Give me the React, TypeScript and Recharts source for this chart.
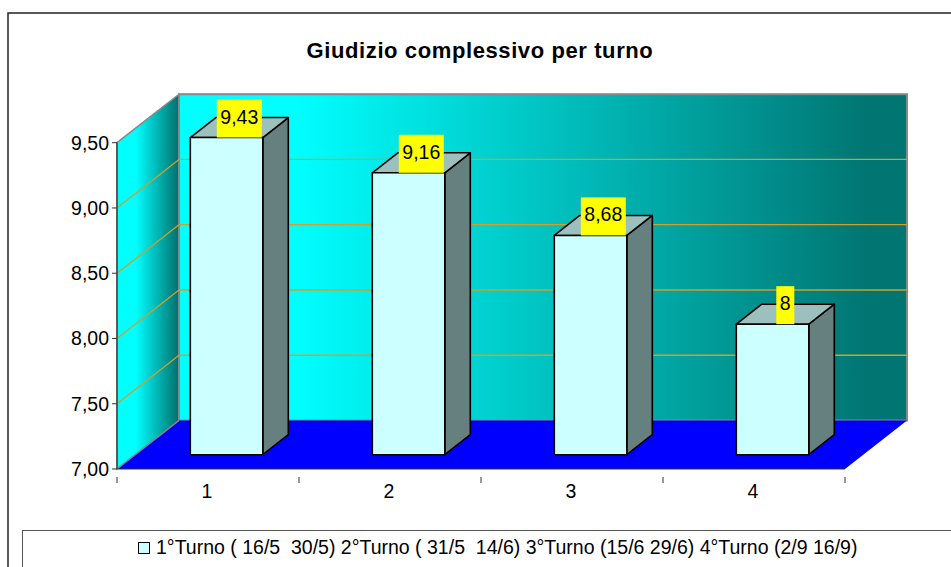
import { BarChart, Bar, XAxis, YAxis, CartesianGrid, Legend, LabelList } from 'recharts';

const turni = ['1', '2', '3', '4'];
const giudizi = [9.43, 9.16, 8.68, 8];
const yTicks = [7, 7.5, 8, 8.5, 9, 9.5];
const seriesName = '1°Turno ( 16/5  30/5) 2°Turno ( 31/5  14/6) 3°Turno (15/6 29/6) 4°Turno (2/9 16/9)';

const data = turni.map((turno, i) => ({ turno, giudizio: giudizi[i] }));

const FONT = '"Liberation Sans", Arial, sans-serif';
const FONT_SIZE = 19.5;
const LEFT = 117;
const RIGHT = 845;
const TOP = 142.7;
const BOTTOM = 469;
const DX = 62;
const DY = 48.5;
const BAND = (RIGHT - LEFT) / turni.length;

const formatComma = (v: number | string) => String(v).replace('.', ',');
const formatAxis = (v: number) => v.toFixed(2).replace('.', ',');

// 3D box: the bar sits in the middle of the floor depth
function Box3D({ x, y, width, height }: any) {
  const fx = x + 18.3;
  const fy = y - 14.3;
  const dx = 25.5;
  const dy = 20;
  const r = fx + width;
  const b = fy + height;
  return (
    <g stroke="#000" strokeWidth={1.6} strokeLinejoin="round">
      <polygon points={`${r},${fy} ${r + dx},${fy - dy} ${r + dx},${b - dy} ${r},${b}`} fill="#668080" />
      <polygon points={`${fx},${fy} ${fx + dx},${fy - dy} ${r + dx},${fy - dy} ${r},${fy}`} fill="#9cc0be" />
      <rect x={fx} y={fy} width={width} height={height} fill="#ccffff" />
    </g>
  );
}

function ValueLabel({ x, y, width, value }: any) {
  const text = formatComma(value);
  const boxW = text.length > 1 ? 45 : 18;
  const cx = x + 18.3 + width / 2 + 12.75;
  const base = y - 14.3;
  return (
    <g>
      <rect x={cx - boxW / 2} y={base - 38} width={boxW} height={38} fill="#ffff00" />
      <text x={cx} y={base - 14} textAnchor="middle" fontSize={FONT_SIZE} fontFamily={FONT} fill="#000">
        {text}
      </text>
    </g>
  );
}

function CategoryTick({ x, y, payload, index }: any) {
  const left = x - BAND / 2;
  return (
    <g>
      <line x1={left} y1={y} x2={left} y2={y + 6} stroke="#333" strokeWidth={1} />
      {index === turni.length - 1 && (
        <line x1={left + BAND} y1={y} x2={left + BAND} y2={y + 6} stroke="#333" strokeWidth={1} />
      )}
      <text x={x - 1} y={498} textAnchor="middle" fontSize={FONT_SIZE} fontFamily={FONT} fill="#000">
        {payload.value}
      </text>
    </g>
  );
}

// gridline runs up the side wall, then along the back wall
function DepthGridLine({ x1, y1 }: any) {
  if (y1 <= TOP + 1 || y1 >= BOTTOM - 1) return <g />;
  return (
    <g fill="none" stroke="#cfa02a" strokeWidth={1.3}>
      <line x1={x1} y1={y1} x2={x1 + DX} y2={y1 - DY} />
      <line x1={x1 + DX} y1={y1 - DY} x2={RIGHT + DX} y2={y1 - DY} />
    </g>
  );
}

function LegendBox({ payload }: any) {
  return (
    <div
      style={{
        position: 'absolute',
        left: 22,
        top: 530,
        width: 960,
        height: 60,
        boxSizing: 'border-box',
        border: '1.5px solid #555',
        background: '#fff',
        fontFamily: FONT,
        fontSize: FONT_SIZE,
        color: '#000',
        whiteSpace: 'pre',
      }}
    >
      <span
        style={{
          position: 'absolute',
          left: 115,
          top: 11,
          width: 10,
          height: 10,
          border: '1.5px solid #000',
          background: '#ccffff',
        }}
      />
      <span style={{ position: 'absolute', left: 133, top: 5 }}>{payload?.[0]?.value}</span>
    </div>
  );
}

export default function App() {
  return (
    <div style={{ position: 'absolute', left: 0, top: 0, width: 951, height: 567, overflow: 'hidden', background: '#fff' }}>
      <BarChart
        width={951}
        height={567}
        data={data}
        margin={{ top: TOP, right: 951 - RIGHT, bottom: 567 - BOTTOM - 40, left: LEFT - 60 }}
        barSize={72.5}
      >
        <defs>
          <linearGradient id="backWall" x1="0" y1="0" x2="1" y2="0">
            <stop offset="0.16" stopColor="#00ffff" />
            <stop offset="0.95" stopColor="#007572" />
          </linearGradient>
          <linearGradient id="sideWall" x1="0" y1="0" x2="1" y2="0">
            <stop offset="0.3" stopColor="#00ffff" />
            <stop offset="1" stopColor="#006f6c" />
          </linearGradient>
        </defs>
        <rect x={8} y={13} width={990} height={600} fill="#fff" stroke="#222" strokeWidth={1.5} />
        <text x={480} y={58} textAnchor="middle" fontSize={22} fontWeight="bold" letterSpacing={0.6} fontFamily={FONT} fill="#000">
          Giudizio complessivo per turno
        </text>
        <polygon
          points={`${LEFT},${TOP} ${LEFT + DX},${TOP - DY} ${LEFT + DX},${BOTTOM - DY} ${LEFT},${BOTTOM}`}
          fill="url(#sideWall)"
          stroke="#888"
          strokeWidth={1.5}
        />
        <rect
          x={LEFT + DX}
          y={TOP - DY}
          width={RIGHT - LEFT}
          height={BOTTOM - TOP}
          fill="url(#backWall)"
          stroke="#888"
          strokeWidth={2}
        />
        <polygon
          points={`${LEFT},${BOTTOM} ${LEFT + DX},${BOTTOM - DY} ${RIGHT + DX},${BOTTOM - DY} ${RIGHT},${BOTTOM}`}
          fill="#0000ff"
        />
        <line x1={LEFT} y1={BOTTOM} x2={LEFT + DX} y2={BOTTOM - DY} stroke="#888" strokeWidth={1.5} />
        <CartesianGrid zIndex={1} vertical={false} horizontal={(props: any) => <DepthGridLine {...props} />} />
        <XAxis
          dataKey="turno"
          height={40}
          interval={0}
          tickLine={false}
          axisLine={{ stroke: '#333', strokeWidth: 1.2 }}
          tick={(props: any) => <CategoryTick {...props} />}
        />
        <YAxis
          type="number"
          domain={[7, 9.5]}
          ticks={yTicks}
          width={60}
          interval={0}
          tickSize={5}
          tickMargin={3}
          tickFormatter={formatAxis}
          tick={{ fill: '#000', fontSize: FONT_SIZE, fontFamily: FONT }}
          tickLine={{ stroke: '#333' }}
          axisLine={{ stroke: '#444', strokeWidth: 1.5 }}
        />
        <Legend content={(props: any) => <LegendBox {...props} />} wrapperStyle={{ top: 0, left: 0, height: 0 }} />
        <Bar dataKey="giudizio" name={seriesName} fill="#ccffff" shape={(props: any) => <Box3D {...props} />} isAnimationActive={false}>
          <LabelList dataKey="giudizio" content={(props: any) => <ValueLabel {...props} />} />
        </Bar>
      </BarChart>
    </div>
  );
}
